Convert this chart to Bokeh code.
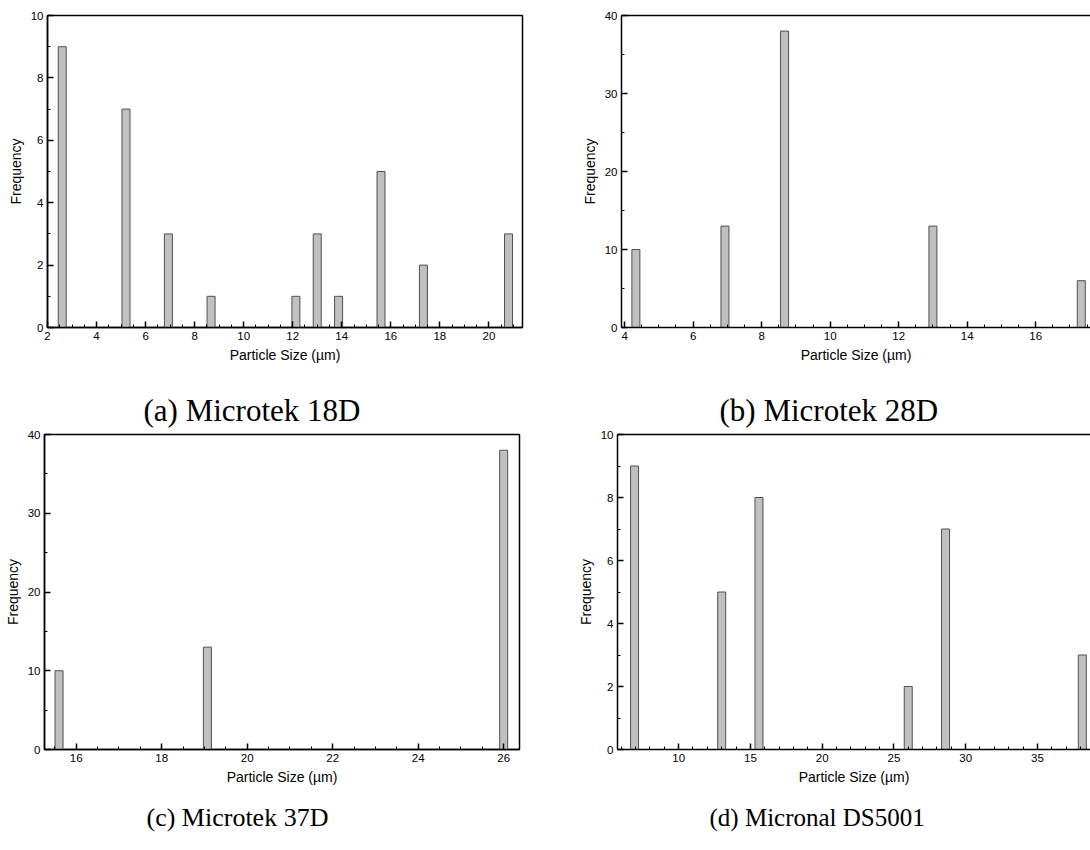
from bokeh.plotting import figure
from bokeh.models import Range1d, SingleIntervalTicker, LinearAxis
from bokeh.core.properties import value
from bokeh.layouts import column, row
from bokeh.embed import file_html
from bokeh.resources import INLINE

# ---- data ----
a_sizes = [2.6, 5.2, 6.93, 8.67, 12.13, 13.0, 13.87, 15.6, 17.33, 20.8]
a_freq = [9, 7, 3, 1, 1, 3, 1, 5, 2, 3]
b_sizes = [4.33, 6.93, 8.67, 13.0, 17.33]
b_freq = [10, 13, 38, 13, 6]
c_sizes = [15.6, 19.07, 26.0]
c_freq = [10, 13, 38]
d_sizes = [6.93, 13.0, 15.6, 26.0, 28.6, 38.13]
d_freq = [9, 5, 8, 2, 7, 3]
captions = ["(a) Microtek 18D", "(b) Microtek 28D", "(c) Microtek 37D", "(d) Micronal DS5001"]
x_title = "Particle Size (µm)"
y_title = "Frequency"

SANS = "Liberation Sans"
SERIF = "Liberation Serif"
BAR_PX = 8
W = 1090


def style_axis(ax, interval, minor):
    ax.ticker = SingleIntervalTicker(interval=interval, num_minor_ticks=minor)
    ax.axis_line_color = "black"
    ax.axis_line_width = 1.5
    ax.major_tick_in = 6
    ax.major_tick_out = 0
    ax.minor_tick_in = 3
    ax.minor_tick_out = 0
    ax.major_tick_line_color = "black"
    ax.major_tick_line_width = 1.5
    ax.minor_tick_line_color = "black"
    ax.minor_tick_line_width = 1
    ax.major_label_text_font = SANS
    ax.major_label_text_font_size = "11.5px"
    ax.major_label_text_color = "black"
    ax.axis_label_text_font = SANS
    ax.axis_label_text_font_size = "14px"
    ax.axis_label_text_font_style = "normal"
    ax.axis_label_text_color = "black"
    ax.major_label_standoff = 4
    ax.axis_label_standoff = 4


def panel(sizes, freqs, xr, yr, xint, xminor, yint, yminor,
          width, height, left, right, top, bottom, closed):
    p = figure(width=width, height=height, output_backend="svg",
               toolbar_location=None, x_range=Range1d(*xr), y_range=Range1d(*yr),
               min_border_left=left, min_border_right=right,
               min_border_top=top, min_border_bottom=bottom)
    p.xgrid.visible = False
    p.ygrid.visible = False
    p.background_fill_color = "white"
    p.border_fill_color = "white"
    xa = p.below[0]
    ya = p.left[0]
    style_axis(xa, xint, xminor)
    style_axis(ya, yint, yminor)
    xa.axis_label = x_title
    ya.axis_label = y_title
    if closed:
        p.outline_line_color = "black"
        p.outline_line_width = 1.5
        p.outline_line_alpha = 1
    else:
        p.outline_line_color = None
        top_ax = LinearAxis(axis_line_color="black", axis_line_width=1.5,
                            major_tick_line_color=None, minor_tick_line_color=None,
                            major_tick_in=0, major_tick_out=0,
                            minor_tick_in=0, minor_tick_out=0,
                            major_label_text_font_size="0px",
                            major_label_text_color=None,
                            major_label_standoff=0)
        p.add_layout(top_ax, "above")
    frame_w = width - left - right
    bw = BAR_PX * (xr[1] - xr[0]) / frame_w
    p.vbar(x=sizes, top=freqs, bottom=0, width=bw,
           fill_color="#c0c0c0", line_color="#505050", line_width=1)
    return p


def caption_strip(height, items):
    # items: (text, left_px, baseline_px_from_top, font_size)
    s = figure(width=W, height=height, output_backend="svg", toolbar_location=None,
               x_range=Range1d(0, W), y_range=Range1d(height, 0),
               x_axis_type=None, y_axis_type=None,
               min_border_left=0, min_border_right=0,
               min_border_top=0, min_border_bottom=0)
    s.outline_line_color = None
    s.background_fill_color = "white"
    s.border_fill_color = "white"
    for txt, xpx, ypx, fs in items:
        s.text(x=[xpx], y=[ypx], text=[txt], text_font=value(SERIF),
               text_font_size=fs, text_color="black",
               text_align="left", text_baseline="alphabetic")
    return s


H1 = 375
H2 = 367
pa = panel(a_sizes, a_freq, (2.0, 21.37), (0, 10), 2, 4, 2, 2,
           560, H1, 47, 38, 13, H1 - 327, True)
pb = panel(b_sizes, b_freq, (3.91, 17.6), (0, 40), 2, 4, 10, 2,
           530, H1, 61, 0, 15, H1 - 329, False)
pc = panel(c_sizes, c_freq, (15.26, 26.37), (0, 40), 2, 4, 10, 2,
           560, H2, 44, 41, 4, H2 - 319, True)
pd = panel(d_sizes, d_freq, (5.74, 38.7), (0, 10), 5, 5, 2, 2,
           530, H2, 57, 0, 4, H2 - 321, False)

cap1 = caption_strip(430 - H1, [(captions[0], 143, 35, "31px"),
                                (captions[1], 719, 35, "31px")])
cap2 = caption_strip(850 - 430 - H2, [(captions[2], 146, 20, "26px"),
                                      (captions[3], 709, 20, "25px")])

layout = column(row(pa, pb, spacing=0), cap1, row(pc, pd, spacing=0), cap2, spacing=0)

with open("out.html", "w") as f:
    f.write(file_html(layout, INLINE))
